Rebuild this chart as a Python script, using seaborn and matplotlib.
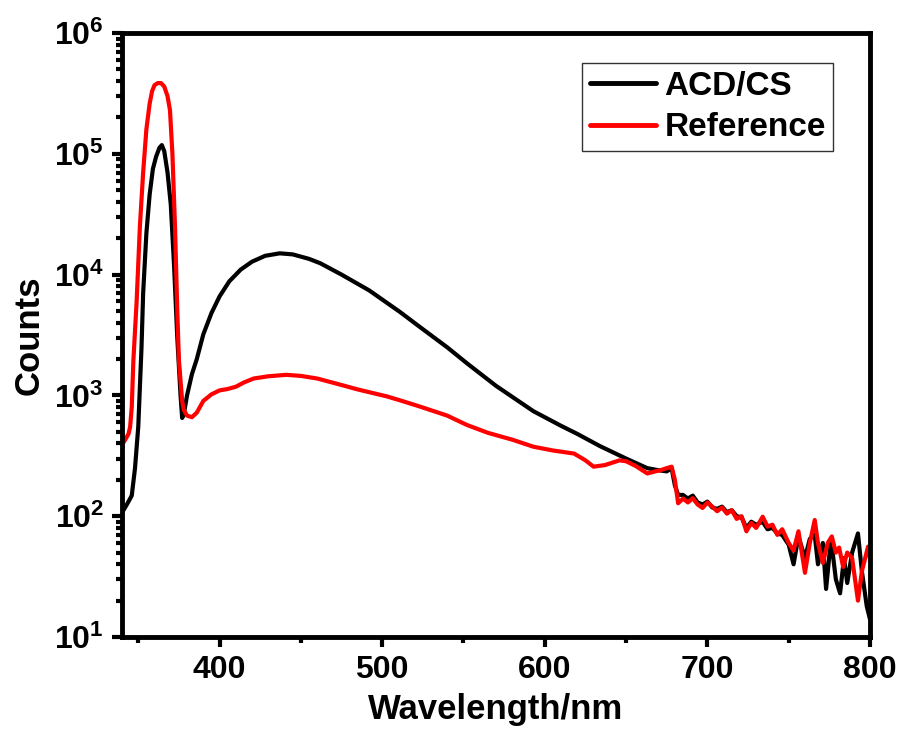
import matplotlib
matplotlib.use("Agg")
import matplotlib.pyplot as plt
import matplotlib.ticker as mticker
import seaborn as sns
import pandas as pd
import numpy as np

# ---- data ----
acd_wl = [340, 343, 346, 348, 350, 352, 353, 355, 357, 359, 361, 363, 364.5, 366, 368, 370,
          372, 374, 376, 377, 378, 380, 383, 386, 390, 395, 400, 406, 413, 420, 428, 437,
          445, 455, 462, 475, 492, 511, 523, 540, 552, 570, 593, 610, 620, 634, 650, 663,
          670, 675, 678, 680,
          682, 685, 688, 691, 694, 697, 700, 703, 706, 709, 712, 715, 718, 721, 724, 727,
          730, 734, 737, 740, 743, 746, 750, 753, 756, 760, 763, 766, 768, 771, 773, 776,
          779, 781.6, 784, 786, 789, 792.6, 795, 798, 800]
acd_counts = [107, 125, 148, 250, 550, 2500, 7000, 22000, 46000, 75000, 95000, 112000, 118000,
              105000, 70000, 38000, 12000, 3000, 1000, 650, 700, 1000, 1500, 2000, 3200, 4800,
              6600, 8800, 11000, 12800, 14300, 15000, 14700, 13500, 12400, 10000, 7400, 4900,
              3700, 2500, 1850, 1200, 740, 560, 480, 380, 300, 250, 240, 235, 250, 180,
              150, 150, 140, 148, 130, 125, 132, 118, 115, 120, 108, 112, 100, 98, 80, 90,
              85, 90, 78, 80, 72, 70, 58, 40, 68, 45, 65, 70, 40, 60, 25, 65,
              30, 23, 45, 28, 50, 72, 35, 18, 14]

ref_wl = [340, 342, 344, 345, 346, 347, 349, 351, 353, 355, 357, 358.5, 360, 362, 364, 366,
          368, 369.5, 371, 372.6, 374, 375, 377, 378, 380, 383, 386, 390, 395, 400, 405,
          410, 415, 421, 430, 441, 450, 460, 472, 485, 503, 511, 523, 540, 552, 565, 580,
          593, 605, 618, 625, 630, 637, 646, 650, 656, 663, 668, 671, 675, 678, 680,
          682, 685, 688, 691, 694, 697, 700, 703, 706, 709, 712, 715, 718, 721, 724, 727,
          730, 734, 737, 740, 743, 746, 750, 753, 756, 760, 763, 766, 768, 771, 774, 776.5,
          779, 781, 783.5, 786, 789, 792.6, 795, 798.8, 800]
ref_counts = [390, 430, 480, 550, 800, 1950, 6000, 25000, 70000, 160000, 260000, 330000,
              370000, 385000, 385000, 360000, 300000, 230000, 100000, 25000, 5000, 1950, 900,
              760, 680, 660, 720, 900, 1020, 1100, 1130, 1180, 1280, 1380, 1440, 1480, 1450,
              1380, 1250, 1120, 980, 910, 810, 680, 570, 490, 430, 376, 350, 330, 290, 257,
              265, 290, 285, 260, 226, 235, 240, 250, 257, 200,
              128, 140, 130, 141, 125, 117, 130, 120, 110, 118, 105, 112, 95, 100, 75, 88,
              80, 99, 82, 85, 70, 78, 60, 52, 75, 34, 60, 93, 60, 41, 60, 68,
              50, 55, 38, 50, 45, 20, 35, 56, 45]

series_names = ["ACD/CS", "Reference"]
series_colors = ["#000000", "#ff0000"]

df = pd.concat([
    pd.DataFrame({"Wavelength": acd_wl, "Counts": acd_counts, "Sample": series_names[0]}),
    pd.DataFrame({"Wavelength": ref_wl, "Counts": ref_counts, "Sample": series_names[1]}),
], ignore_index=True)

sns.set_theme(style="white")
plt.rcParams["font.family"] = ["Liberation Sans", "DejaVu Sans"]
plt.rcParams["font.weight"] = "bold"
plt.rcParams["text.color"] = "black"
plt.rcParams["axes.labelcolor"] = "black"
plt.rcParams["xtick.color"] = "black"
plt.rcParams["ytick.color"] = "black"
plt.rcParams["mathtext.fontset"] = "custom"
plt.rcParams["mathtext.rm"] = "Liberation Sans:bold"
plt.rcParams["mathtext.bf"] = "Liberation Sans:bold"
plt.rcParams["mathtext.it"] = "Liberation Sans:bold"

fig = plt.figure(figsize=(9.03, 7.49), dpi=100)
ax = fig.add_axes([122 / 903, 1 - 637 / 749, (870 - 122) / 903, (637 - 33) / 749])

sns.lineplot(data=df, x="Wavelength", y="Counts", hue="Sample", palette=series_colors,
             hue_order=series_names, linewidth=3.0, ax=ax, sort=False, estimator=None)

ax.set_yscale("log")
ax.set_xlim(340, 800)
ax.set_ylim(10, 1e6)

ax.xaxis.set_major_locator(mticker.MultipleLocator(100))
ax.xaxis.set_minor_locator(mticker.MultipleLocator(50))
ax.yaxis.set_major_locator(mticker.LogLocator(base=10, numticks=10))
ax.yaxis.set_minor_locator(mticker.LogLocator(base=10, subs=np.arange(2, 10), numticks=20))
ax.yaxis.set_minor_formatter(mticker.NullFormatter())
ax.yaxis.set_major_formatter(mticker.FuncFormatter(
    lambda v, p: r"$\mathbf{10^{%d}}$" % int(round(np.log10(v)))))

ax.tick_params(axis="both", which="major", direction="out", length=7, width=3,
               labelsize=23, pad=6, bottom=True, left=True, top=False, right=False,
               color="black", labelcolor="black")
ax.tick_params(axis="both", which="minor", direction="out", length=4, width=3,
               bottom=True, left=True, top=False, right=False, color="black")
for lab in ax.get_xticklabels():
    lab.set_fontweight("bold")

for sp in ax.spines.values():
    sp.set_linewidth(3.5)
    sp.set_color("black")
    sp.set_visible(True)

ax.set_xlabel("Wavelength/nm", fontsize=25, fontweight="bold", labelpad=6, color="black")
ax.set_ylabel("Counts", fontsize=25, fontweight="bold", labelpad=6, color="black")

leg = ax.legend(loc="upper right", bbox_to_anchor=(0.951, 0.95), fontsize=24,
                frameon=True, fancybox=False, handlelength=2.0, handletextpad=0.25,
                borderpad=0.22, labelspacing=0.32, borderaxespad=0)
leg.get_frame().set_edgecolor("black")
leg.get_frame().set_linewidth(1.0)
for t in leg.get_texts():
    t.set_fontweight("bold")
    t.set_color("black")
for line in leg.get_lines():
    line.set_linewidth(3.5)

fig.savefig("out.png", dpi=100, facecolor="white")
